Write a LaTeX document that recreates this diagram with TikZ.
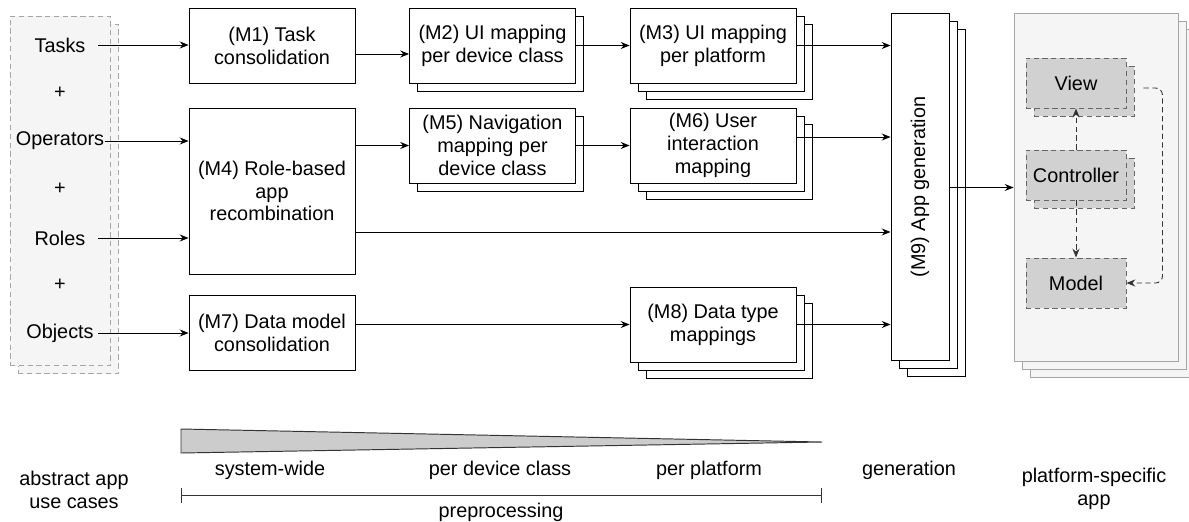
\documentclass[tikz,border=0pt]{standalone}
\usepackage{fontspec}
\setmainfont{Liberation Sans}
\usetikzlibrary{arrows.meta,shadows}

\begin{document}
\begin{tikzpicture}[x=0.02cm, y=-0.02cm, line width=0.55pt,
        >={Stealth[length=5pt,width=4pt]},
        font=\fontsize{11.3}{13}\selectfont,
        mapbox/.style={draw, fill=white, align=center, minimum width=3.32cm, minimum height=1.5cm, inner sep=2pt},
        stack/.style={copy shadow={shadow xshift=0.16cm, shadow yshift=-0.16cm}},
        stacktwo/.style={double copy shadow={shadow xshift=0.16cm, shadow yshift=-0.16cm}},
        panel/.style={draw=black!35, fill=black!4},
        mvc/.style={draw=black!60, densely dashed, fill=black!18, minimum width=2cm, minimum height=1cm},
        dots/.style={->, densely dashed, black!80, line width=0.5pt},
        item/.style={inner sep=0pt, minimum width=1.52cm}]
    \useasboundingbox (0,0) rectangle (1189,521);

    % abstract app use cases
    \node[panel, densely dashed, stack, minimum width=2cm, minimum height=7cm] (uc) at (60,191) {};
    \node[item] (tasks) at (60,45) {Tasks};
    \node (plus1) at (60,93) {+};
    \node[item] (ops) at (60,141) {Operators};
    \node (plus2) at (60,189) {+};
    \node[item] (roles) at (60,238) {Roles};
    \node (plus3) at (60,285) {+};
    \node[item] (objs) at (60,333) {Objects};

    % preprocessing steps
    \node[mapbox] (m1) at (272,45.5) {(M1) Task\\consolidation};
    \node[mapbox, minimum height=3.32cm] (m4) at (272,191) {(M4) Role-based\\app\\recombination};
    \node[mapbox] (m7) at (272,332.5) {(M7) Data model\\consolidation};
    \node[mapbox, stack] (m2) at (492.5,45.5) {(M2) UI mapping\\per device class};
    \node[mapbox, stack] (m5) at (492.5,145.5) {(M5) Navigation\\mapping per\\device class};
    \node[mapbox, stacktwo] (m3) at (713,45.5) {(M3) UI mapping\\per platform};
    \node[mapbox, stacktwo] (m6) at (713,145.5) {(M6) User\\interaction\\mapping};
    \node[mapbox, stacktwo] (m8) at (713,324.5) {(M8) Data type\\mappings};

    % generation
    \node[mapbox, stacktwo, minimum width=1.16cm, minimum height=6.96cm] (m9) at (920,187) {};
    \node[rotate=90] (m9text) at (m9) {(M9) App generation};

    % platform-specific app
    \node[panel, stacktwo, minimum width=3.28cm, minimum height=6.98cm] (app) at (1096,187.5) {};
    \node[mvc, stack] (view) at (1076,83) {View};
    \node[mvc, stack] (ctrl) at (1076,175) {Controller};
    \node[mvc] (model) at (1076,283) {Model};

    % connectors
    \draw[->] (tasks.east) -- (tasks.east -| m1.west);
    \draw[->] (ops.east) -- (ops.east -| m4.west);
    \draw[->] (roles.east) -- (roles.east -| m4.west);
    \draw[->] (objs.east) -- (objs.east -| m7.west);
    \coordinate (p1) at ([yshift=-0.17cm]m1.east);
    \draw[->] (p1) -- (p1 -| m2.west);
    \draw[->] (m2) -- (m3);
    \draw[->] (m4.east |- m5) -- (m5);
    \draw[->] (m5) -- (m6);
    \draw[->] (m7.east |- m8) -- (m8);
    \draw[->] (m3.east) -- (m3.east -| m9.west);
    \coordinate (p6) at ([yshift=0.17cm]m6.east);
    \draw[->] (p6) -- (p6 -| m9.west);
    \coordinate (p4) at ([yshift=-0.82cm]m4.east);
    \draw[->] (p4) -- (p4 -| m9.west);
    \draw[->] (m8.east) -- (m8.east -| m9.west);
    \draw[->] (m9.east |- app) -- (app.west);
    \draw[dots] (ctrl.north) -- (view.south);
    \draw[dots] (ctrl.south) -- (model.north);
    \draw[dots, rounded corners=4pt, shorten <=0.34cm] ([yshift=-0.1cm]view.east) -- ++(36,0) |- (model.east);

    % bottom scale
    \filldraw[fill=black!20, draw=black!80] (181,429) -- (181,453) -- (822,442) -- cycle;
    \node (sw) at (270,470) {system-wide};
    \node (pdc) at (500,470) {per device class};
    \node (pp) at (709,470) {per platform};
    \node (gen) at (909,470) {generation};
    \node[align=center] (auc) at (74,490) {abstract app\\use cases};
    \node[align=center] (psa) at (1094,489) {platform-specific\\app};
    \draw[black!80] (181,488) -- (181,503) (181,495) -- (821,495) (821,488) -- (821,503);
    \node (pre) at (501,512) {preprocessing};
\end{tikzpicture}
\end{document}
